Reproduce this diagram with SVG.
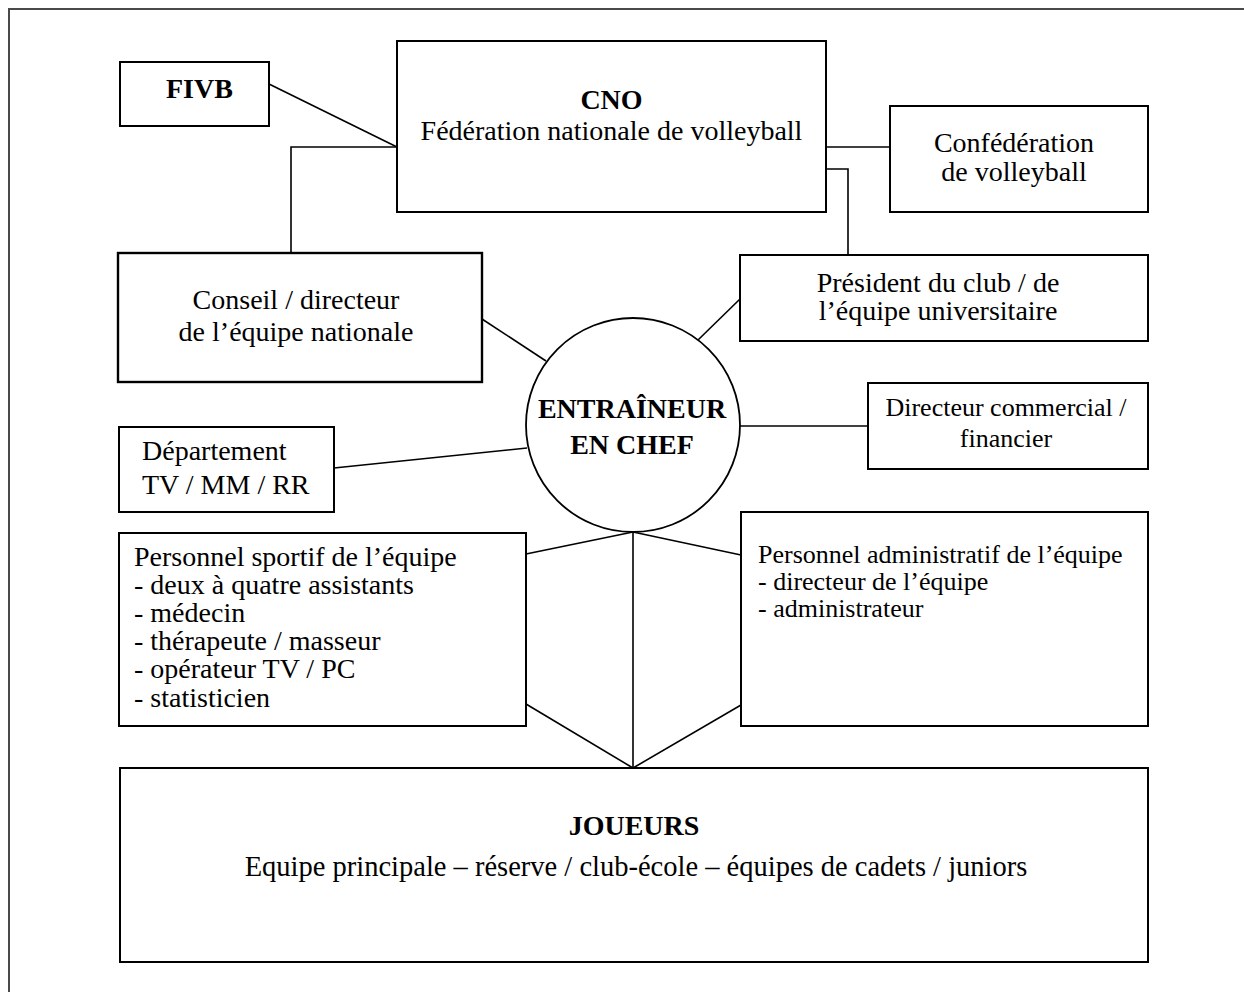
<svg xmlns="http://www.w3.org/2000/svg" width="1244" height="992" viewBox="0 0 1244 992">
  <style>
    .box { fill: #ffffff; stroke: #000000; stroke-width: 2; }
    .ring { fill: #ffffff; stroke: #000000; stroke-width: 1.8; }
    .link { fill: none; stroke: #000000; stroke-width: 1.6; }
    .frame { fill: none; stroke: #4a4a4a; stroke-width: 2; }
    text { font-family: "Liberation Serif", "Times New Roman", serif; font-size: 28px; fill: #000000; }
    .b { font-weight: bold; }
    .c { text-anchor: middle; }
    .sm { font-size: 26px; }
  </style>

  <rect class="frame" x="9" y="9" width="1242" height="992"/>

  <g id="connectors">
    <line class="link" x1="269" y1="84" x2="397" y2="147"/>
    <polyline class="link" points="397,147 291,147 291,253"/>
    <line class="link" x1="826" y1="147" x2="890" y2="147"/>
    <polyline class="link" points="826,169 848,169 848,255"/>
    <line class="link" x1="482" y1="319" x2="546" y2="361"/>
    <line class="link" x1="698" y1="340" x2="740" y2="299"/>
    <line class="link" x1="740" y1="426" x2="868" y2="426"/>
    <line class="link" x1="334" y1="468" x2="527" y2="448"/>
    <line class="link" x1="526" y1="554" x2="633" y2="532"/>
    <line class="link" x1="633" y1="532" x2="741" y2="555"/>
    <line class="link" x1="633" y1="532" x2="633" y2="768"/>
    <line class="link" x1="526" y1="704" x2="633" y2="768"/>
    <line class="link" x1="741" y1="705" x2="633" y2="768"/>
  </g>

  <g id="fivb">
    <rect class="box" x="120" y="62" width="149" height="64"/>
    <text class="b" x="166" y="98">FIVB</text>
  </g>

  <g id="cno">
    <rect class="box" x="397" y="41" width="429" height="171"/>
    <text class="b c" x="611.5" y="109">CNO</text>
    <text class="c" x="611.5" y="140">Fédération nationale de volleyball</text>
  </g>

  <g id="confederation">
    <rect class="box" x="890" y="106" width="258" height="106"/>
    <text class="c" x="1014" y="152">Confédération</text>
    <text class="c" x="1014" y="181">de volleyball</text>
  </g>

  <g id="conseil">
    <rect class="box" x="118" y="253" width="364" height="129" style="stroke-width:2.4"/>
    <text class="c" x="296" y="309">Conseil / directeur</text>
    <text class="c" x="296" y="341">de l’équipe nationale</text>
  </g>

  <g id="president">
    <rect class="box" x="740" y="255" width="408" height="86"/>
    <text class="c" x="938" y="292">Président du club / de</text>
    <text class="c" x="938" y="320">l’équipe universitaire</text>
  </g>

  <g id="entraineur">
    <circle class="ring" cx="633" cy="425" r="107"/>
    <text class="b c" x="632" y="418">ENTRAÎNEUR</text>
    <text class="b c" x="632" y="454">EN CHEF</text>
  </g>

  <g id="directeur-commercial">
    <rect class="box" x="868" y="383" width="280" height="86"/>
    <text class="c sm" x="1006" y="416">Directeur commercial /</text>
    <text class="c sm" x="1006" y="447">financier</text>
  </g>

  <g id="departement">
    <rect class="box" x="119" y="427" width="215" height="85"/>
    <text x="142" y="460">Département</text>
    <text x="142" y="494">TV / MM / RR</text>
  </g>

  <g id="personnel-sportif">
    <rect class="box" x="119" y="533" width="407" height="193"/>
    <text x="134" y="566">Personnel sportif de l’équipe</text>
    <text x="134" y="594">- deux à quatre assistants</text>
    <text x="134" y="622">- médecin</text>
    <text x="134" y="650">- thérapeute / masseur</text>
    <text x="134" y="678">- opérateur TV / PC</text>
    <text x="134" y="707">- statisticien</text>
  </g>

  <g id="personnel-administratif">
    <rect class="box" x="741" y="512" width="407" height="214"/>
    <text class="sm" x="758" y="563">Personnel administratif de l’équipe</text>
    <text class="sm" x="758" y="590">- directeur de l’équipe</text>
    <text class="sm" x="758" y="617">- administrateur</text>
  </g>

  <g id="joueurs">
    <rect class="box" x="120" y="768" width="1028" height="194"/>
    <text class="b c" x="634" y="835">JOUEURS</text>
    <text class="c" x="636" y="876" style="font-size:28.5px">Equipe principale – réserve / club-école – équipes de cadets / juniors</text>
  </g>
</svg>
